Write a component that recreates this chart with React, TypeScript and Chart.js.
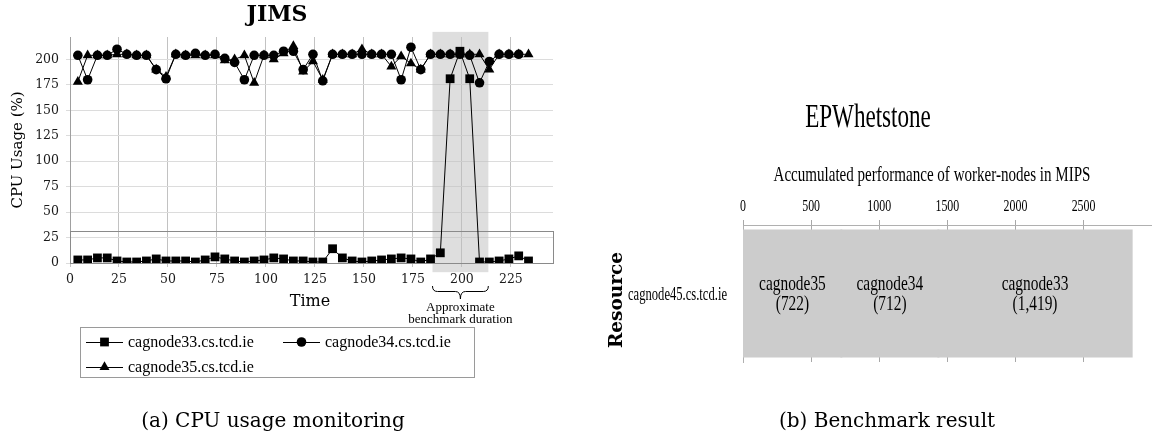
import React, { useEffect, useRef } from 'react';
import { Chart, registerables } from 'chart.js';

Chart.register(...registerables);

// ---------- Left chart (JIMS) data ----------
const TIMES = [4, 9, 14, 19, 24, 29, 34, 39, 44, 49, 54, 59, 64, 69, 74, 79, 84, 89, 94, 99, 104, 109, 114, 119, 124, 129, 134, 139, 144, 149, 154, 159, 164, 169, 174, 179, 184, 189, 194, 199, 204, 209, 214, 219, 224, 229, 234];
const CAG33 = [3, 3, 5, 5, 2, 1, 1, 2, 4, 2, 2, 2, 1, 3, 6, 4, 2, 1, 2, 3, 5, 4, 2, 2, 1, 1, 14, 5, 2, 1, 2, 3, 4, 5, 4, 1, 4, 10, 181, 208, 181, 1, 1, 2, 4, 7, 2];
const CAG34 = [204, 180, 204, 204, 210, 205, 204, 204, 190, 181, 205, 204, 206, 204, 205, 201, 197, 180, 204, 204, 204, 208, 208, 190, 205, 179, 205, 205, 205, 205, 205, 205, 205, 180, 212, 190, 205, 205, 205, 205, 204, 177, 198, 205, 205, 205];
const CAG35 = [178, 204, 204, 204, 205, 205, 204, 204, 190, 183, 205, 204, 204, 204, 204, 199, 200, 204, 177, 204, 200, 206, 213, 188, 198, 180, 205, 205, 205, 210, 205, 205, 193, 203, 196, 190, 205, 205, 205, 205, 205, 205, 190, 205, 205, 205, 205];
const SERIES_NAMES = ['cagnode33.cs.tcd.ie', 'cagnode34.cs.tcd.ie', 'cagnode35.cs.tcd.ie'];
const SERIES_MARKERS = ['rect', 'circle', 'triangle'];
const X_RANGE = [0, 246.5];
const Y_RANGE = [0, 222];
const TICK_STEP = 25;
const BENCH_RANGE = [185, 213.5];
const SHADE_Y = [-9, 227];
const ZOOM_BOX = [0, 31];

// ---------- Right chart (EPWhetstone) data ----------
const RESOURCES = ['cagnode45.cs.tcd.ie'];
const NODES = ['cagnode35', 'cagnode34', 'cagnode33'];
const MIPS = [722, 712, 1419];
const MIPS_MAX = 2995;
const MIPS_TICKS = [0, 500, 1000, 1500, 2000, 2500];

const SERIF = "'DejaVu Serif', serif";
const TIMES_FONT = "'Liberation Serif', serif";
const SX = 0.7; // horizontal condensation of the right chart's typeface

function drawMarker(ctx: CanvasRenderingContext2D, style: string, x: number, y: number, r: number) {
  ctx.beginPath();
  if (style === 'rect') {
    const s = Math.SQRT1_2 * r;
    ctx.rect(x - s, y - s, 2 * s, 2 * s);
  } else if (style === 'circle') {
    ctx.arc(x, y, r, 0, Math.PI * 2);
  } else {
    let rad = 0;
    ctx.moveTo(x + Math.sin(rad) * r, y - Math.cos(rad) * r);
    rad += (2 * Math.PI) / 3;
    ctx.lineTo(x + Math.sin(rad) * r, y - Math.cos(rad) * r);
    rad += (2 * Math.PI) / 3;
    ctx.lineTo(x + Math.sin(rad) * r, y - Math.cos(rad) * r);
    ctx.closePath();
  }
  ctx.fill();
}

function condText(ctx: CanvasRenderingContext2D, text: string, x: number, y: number, size: number, align: CanvasTextAlign = 'center', weight = 'normal') {
  ctx.save();
  ctx.translate(x, y);
  ctx.scale(SX, 1);
  ctx.font = `${weight} ${size}px ${TIMES_FONT}`;
  ctx.textAlign = align;
  ctx.textBaseline = 'middle';
  ctx.fillStyle = '#000';
  ctx.fillText(text, 0, 0);
  ctx.restore();
}

const MARKER_R = [6.2, 4.8, 5.8];

const leftDecor = {
  id: 'leftDecor',
  beforeDatasetsDraw(chart: any) {
    const { ctx, scales } = chart;
    const x = scales.x, y = scales.y;
    const x1 = x.getPixelForValue(BENCH_RANGE[0]);
    const x2 = x.getPixelForValue(BENCH_RANGE[1]);
    const yTop = y.getPixelForValue(SHADE_Y[1]);
    const yBot = y.getPixelForValue(SHADE_Y[0]);
    ctx.save();
    ctx.fillStyle = 'rgba(190,190,190,0.5)';
    ctx.fillRect(x1, yTop, x2 - x1, yBot - yTop);
    ctx.strokeStyle = '#8a8a8a';
    ctx.lineWidth = 1;
    const bt = Math.round(y.getPixelForValue(ZOOM_BOX[1])) + 0.5;
    const bb = Math.round(y.getPixelForValue(ZOOM_BOX[0])) + 0.5;
    const bl = Math.round(x.left) + 0.5;
    const br = Math.round(x.right) + 0.5;
    ctx.strokeRect(bl, bt, br - bl, bb - bt);
    ctx.restore();
  },
  afterDraw(chart: any) {
    const { ctx, scales } = chart;
    const x = scales.x;
    ctx.save();
    ctx.fillStyle = '#000';
    ctx.textAlign = 'center';
    ctx.textBaseline = 'middle';
    // title
    ctx.font = `bold 22px ${SERIF}`;
    ctx.fillText('JIMS', 277, 15);
    // y title
    ctx.save();
    ctx.translate(18, 150);
    ctx.rotate(-Math.PI / 2);
    ctx.font = `15px ${SERIF}`;
    ctx.fillText('CPU Usage (%)', 0, 0);
    ctx.restore();
    // x title
    ctx.font = `16px ${SERIF}`;
    ctx.fillText('Time', 310, 302);
    // brace
    const x1 = x.getPixelForValue(BENCH_RANGE[0]);
    const x2 = x.getPixelForValue(BENCH_RANGE[1]);
    const mid = (x1 + x2) / 2;
    const y0 = 286, hm = 291.5, y1 = 299;
    const q = 5;
    ctx.strokeStyle = '#000';
    ctx.lineWidth = 1;
    ctx.beginPath();
    ctx.moveTo(x1, y0);
    ctx.quadraticCurveTo(x1, hm, x1 + q, hm);
    ctx.lineTo(mid - q, hm);
    ctx.quadraticCurveTo(mid, hm, mid, y1);
    ctx.quadraticCurveTo(mid, hm, mid + q, hm);
    ctx.lineTo(x2 - q, hm);
    ctx.quadraticCurveTo(x2, hm, x2, y0);
    ctx.stroke();
    ctx.font = `13px ${TIMES_FONT}`;
    ctx.fillText('Approximate', mid, 308);
    ctx.fillText('benchmark duration', mid, 320);
    // legend
    ctx.strokeStyle = '#9a9a9a';
    ctx.strokeRect(80.5, 327.5, 394, 50);
    const entries = [
      { lx: 86, tx: 128, y: 342 },
      { lx: 283, tx: 325, y: 342 },
      { lx: 86, tx: 128, y: 367 },
    ];
    ctx.font = `16px ${TIMES_FONT}`;
    ctx.textAlign = 'left';
    entries.forEach((e, i) => {
      ctx.strokeStyle = '#000';
      ctx.beginPath();
      ctx.moveTo(e.lx, e.y + 0.5);
      ctx.lineTo(e.lx + 37, e.y + 0.5);
      ctx.stroke();
      ctx.fillStyle = '#000';
      drawMarker(ctx, SERIES_MARKERS[i], e.lx + 18.5, e.y, MARKER_R[i]);
      ctx.fillText(SERIES_NAMES[i], e.tx, e.y + 1);
    });
    // caption
    ctx.textAlign = 'center';
    ctx.font = `20px ${SERIF}`;
    ctx.fillText('(a) CPU usage monitoring', 273, 422);
    ctx.restore();
  },
};

const rightDecor = {
  id: 'rightDecor',
  afterDraw(chart: any) {
    const { ctx, scales } = chart;
    const x = scales.x;
    const y = scales.y;
    // tick labels
    MIPS_TICKS.forEach((v) => {
      condText(ctx, String(v), x.getPixelForValue(v), 207, 17);
    });
    condText(ctx, 'Accumulated performance of worker-nodes in MIPS', 352, 175, 21.5);
    condText(ctx, 'EPWhetstone', 288, 118, 33);
    // category label
    RESOURCES.forEach((r, i) => {
      condText(ctx, r, 147, y.getPixelForValue(i) + 2, 18, 'right');
    });
    // bar labels
    chart.data.datasets.forEach((ds: any, i: number) => {
      const el = chart.getDatasetMeta(i).data[0];
      const cx = (el.x + el.base) / 2;
      condText(ctx, NODES[i], cx, el.y - 9, 22);
      condText(ctx, `(${MIPS[i].toLocaleString('en-US')})`, cx, el.y + 11, 22);
    });
    // Resource title
    ctx.save();
    ctx.translate(37, 300);
    ctx.rotate(-Math.PI / 2);
    ctx.font = `bold 18.5px ${SERIF}`;
    ctx.textAlign = 'center';
    ctx.textBaseline = 'middle';
    ctx.fillStyle = '#000';
    ctx.fillText('Resource', 0, 0);
    ctx.restore();
    // caption
    ctx.save();
    ctx.font = `20px ${SERIF}`;
    ctx.textAlign = 'center';
    ctx.textBaseline = 'middle';
    ctx.fillStyle = '#000';
    ctx.fillText('(b) Benchmark result', 307, 422);
    ctx.restore();
  },
};

export default function App() {
  const leftRef = useRef<HTMLCanvasElement>(null);
  const rightRef = useRef<HTMLCanvasElement>(null);

  useEffect(() => {
    const series = [CAG33, CAG34, CAG35];
    const left = new Chart(leftRef.current as HTMLCanvasElement, {
      type: 'line',
      data: {
        datasets: series.map((vals, i) => ({
          label: SERIES_NAMES[i],
          data: vals.map((v, j) => ({ x: TIMES[j], y: v })),
          borderColor: '#000',
          backgroundColor: '#000',
          borderWidth: 1,
          pointStyle: SERIES_MARKERS[i] as any,
          pointRadius: MARKER_R[i],
          pointBorderWidth: 0,
          pointBackgroundColor: '#000',
          tension: 0,
        })),
      },
      options: {
        responsive: false,
        animation: false,
        layout: { padding: { left: 0, top: 37, right: 27, bottom: 0 } },
        plugins: { legend: { display: false }, title: { display: false }, tooltip: { enabled: false } },
        scales: {
          x: {
            type: 'linear',
            min: X_RANGE[0],
            max: X_RANGE[1],
            afterFit: (s: any) => { s.height = 178; },
            ticks: { stepSize: TICK_STEP, includeBounds: false, maxRotation: 0, padding: 5, color: '#1a1a1a', font: { family: SERIF, size: 12.5 } },
            grid: { color: '#c2c2c2', tickLength: 4, drawTicks: true },
            border: { display: false },
          },
          y: {
            type: 'linear',
            min: Y_RANGE[0],
            max: Y_RANGE[1],
            afterFit: (s: any) => { s.width = 70; },
            ticks: { stepSize: TICK_STEP, includeBounds: false, padding: 7, color: '#1a1a1a', font: { family: SERIF, size: 12.5 } },
            grid: { color: '#dcdcdc', tickLength: 4 },
            border: { color: '#a0a0a0' },
          },
        },
      } as any,
      plugins: [leftDecor],
    });

    const right = new Chart(rightRef.current as HTMLCanvasElement, {
      type: 'bar',
      data: {
        labels: RESOURCES,
        datasets: NODES.map((n, i) => ({
          label: n,
          data: [MIPS[i]],
          backgroundColor: '#cccccc',
          borderWidth: 0,
          inflateAmount: 1,
          barPercentage: 0.92,
          categoryPercentage: 1,
        })),
      },
      options: {
        indexAxis: 'y',
        responsive: false,
        animation: false,
        layout: { padding: { left: 0, top: 0, right: 3, bottom: 79 } },
        plugins: { legend: { display: false }, title: { display: false }, tooltip: { enabled: false } },
        scales: {
          x: {
            type: 'linear',
            position: 'top',
            stacked: true,
            min: 0,
            max: MIPS_MAX,
            afterFit: (s: any) => { s.height = 225; },
            afterBuildTicks: (s: any) => { s.ticks = MIPS_TICKS.map((v) => ({ value: v })); },
            ticks: { display: false },
            grid: { color: '#a8a8a8', tickLength: 5, drawTicks: true },
            border: { color: '#b0b0b0' },
          },
          y: {
            type: 'category',
            stacked: true,
            afterFit: (s: any) => { s.width = 163; },
            ticks: { display: false },
            grid: { display: false },
            border: { color: '#b0b0b0' },
          },
        },
      } as any,
      plugins: [rightDecor],
    });

    return () => {
      left.destroy();
      right.destroy();
    };
  }, []);

  return (
    <div style={{ position: 'absolute', left: 0, top: 0, width: 1154, height: 441, background: '#fff' }}>
      <canvas ref={leftRef} width={580} height={441} style={{ position: 'absolute', left: 0, top: 0, width: 580, height: 441 }} />
      <canvas ref={rightRef} width={574} height={441} style={{ position: 'absolute', left: 580, top: 0, width: 574, height: 441 }} />
    </div>
  );
}
